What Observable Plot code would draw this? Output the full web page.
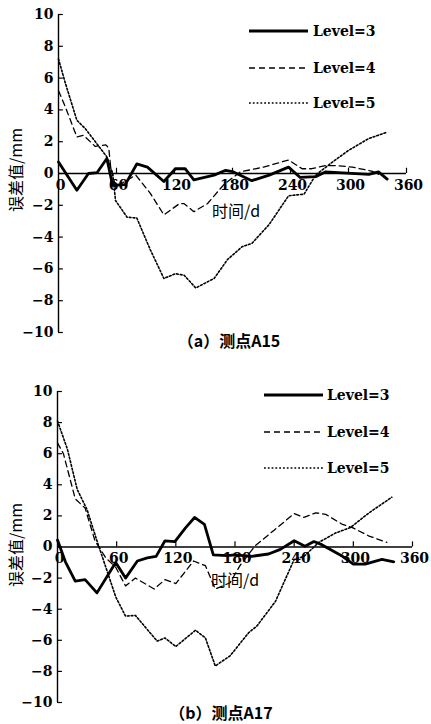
<!DOCTYPE html>
<html><head><meta charset="utf-8">
<script src="https://cdn.jsdelivr.net/npm/d3@7"></script>
<script src="https://cdn.jsdelivr.net/npm/@observablehq/plot@0.6"></script>
<style>
html,body{margin:0;padding:0;background:#fff;}
#wrap{position:relative;width:431px;height:724px;overflow:hidden;background:#fff;}
.abs{position:absolute;white-space:nowrap;line-height:1;}
.num{font-family:"DejaVu Serif",serif;font-weight:bold;font-size:14px;color:#000;}
.cjk{font-family:"Noto Sans CJK SC",sans-serif;font-size:16px;color:#000;}
.cap{font-weight:bold;}
.ylab{transform:translate(-50%,-50%) rotate(-90deg);}
</style></head>
<body><div id="wrap"></div>
<script>
// ---- data ----
const xTicks = [0, 60, 120, 180, 240, 300, 360];
const yTicks = [-10, -8, -6, -4, -2, 0, 2, 4, 6, 8, 10];
const levels = ["Level=3", "Level=4", "Level=5"];

// 测点A15
const a15_l3_day = [0,19,31,40,50,56,69,81,92,109,121,131,140,161,173,181,200,218,238,250,266,276,321,331,340];
const a15_l3_val = [0.73,-1.05,0,0.06,0.94,-0.75,-0.7,0.6,0.4,-0.5,0.3,0.3,-0.4,-0.1,0.2,0.1,-0.45,-0.1,0.4,-0.25,-0.2,0.1,-0.05,0.1,-0.35];
const a15_l4_day = [0,7,19,26,38,49,52,54,59,66,80,95,109,125,130,140,154,171,188,212,238,252,262,276,287,304,324,331];
const a15_l4_val = [5.2,4.2,2.3,2.4,1.7,1.8,1.6,0.4,-0.8,-0.6,-0.1,-1.25,-2.6,-1.9,-1.9,-2.4,-1.9,-0.7,0.1,0.4,0.85,0.3,0.3,0.5,0.5,0.4,0.15,-0.05];
const a15_l5_day = [0,7,19,28,50,56,59,71,81,95,109,121,130,142,161,175,190,200,218,238,254,266,283,300,321,340];
const a15_l5_val = [7.2,5.7,3.35,2.8,1.05,0,-1.7,-2.75,-2.8,-4.8,-6.6,-6.3,-6.4,-7.2,-6.6,-5.4,-4.6,-4.4,-3.2,-1.4,-1.3,-0.1,0.7,1.45,2.2,2.6];

// 测点A17
const a17_l3_day = [0,8,18,28,40,59,69,81,91,100,109,119,130,139,149,158,172,180,197,214,226,240,251,260,268,289,300,312,329,341];
const a17_l3_val = [0.45,-0.95,-2.2,-2.1,-2.95,-1.0,-2.0,-0.9,-0.7,-0.6,0.4,0.35,1.25,1.9,1.45,-0.5,-0.55,-0.5,-0.6,-0.45,-0.15,0.4,0.05,0.35,0.15,-0.6,-1.1,-1.1,-0.8,-0.95];
const a17_l4_day = [0,6,18,28,38,49,59,69,79,98,109,120,138,150,160,175,185,200,220,240,250,262,272,289,299,316,334];
const a17_l4_val = [6.7,6.0,3.1,2.5,0.4,-0.7,-1.3,-2.5,-2.0,-2.7,-2.1,-2.35,-0.9,-1.2,-2.7,-2.3,-1.2,0.05,1.1,2.15,1.9,2.2,2.1,1.45,1.25,0.7,0.3];
const a17_l5_day = [0,10,20,30,40,49,59,69,79,101,109,120,140,150,160,175,194,202,221,240,250,265,282,297,316,339];
const a17_l5_val = [8.1,6.3,3.7,2.4,0.4,-1.3,-3.2,-4.45,-4.4,-6.05,-5.85,-6.4,-5.35,-5.85,-7.65,-7.0,-5.5,-5.1,-3.5,-0.8,-0.6,0.3,0.9,1.25,2.2,3.2];

const styles = {
  "Level=3": {strokeWidth: 2.8, dash: null},
  "Level=4": {strokeWidth: 1.3, dash: "6,4"},
  "Level=5": {strokeWidth: 1.6, dash: "1.8,2"}
};

function rows(day, val, level) { return day.map((d, i) => ({day: d, val: val[i], level})); }
const fmt = d => d < 0 ? "\u2212" + Math.abs(d) : String(d);

function panel(series, o) {
  const lineMarks = ["Level=5", "Level=4", "Level=3"].map(l =>
    Plot.line(series.filter(r => r.level === l), {x: "day", y: "val", stroke: "black",
      strokeWidth: styles[l].strokeWidth, strokeDasharray: styles[l].dash, strokeLinejoin: "round"}));
  return Plot.plot({
    width: 431, height: o.height,
    marginTop: o.mt, marginBottom: o.mb, marginLeft: o.ml, marginRight: o.mr,
    x: {domain: [0, 360], axis: null},
    y: {domain: [-10, 10], axis: null},
    style: {fontFamily: "DejaVu Serif", fontSize: "14px", fontWeight: "bold", background: "transparent", overflow: "visible"},
    marks: [
      Plot.ruleX([0], {stroke: "black", strokeWidth: 1.4}),
      Plot.ruleY([0], {stroke: "black", strokeWidth: 1.4}),
      Plot.ruleY(yTicks, {y: d => d, x1: 0, x2: 5, stroke: "black", strokeWidth: 1.2}),
      Plot.ruleX(xTicks.slice(1), {x: d => d, y1: 0, y2: 0.33, stroke: "black", strokeWidth: 1.2}),
      Plot.text(yTicks, {x: 0, y: d => d, text: fmt, textAnchor: "end", dx: -5, fill: "black"}),
      Plot.text(xTicks, {x: d => d, y: 0, text: fmt, dy: 12, dx: 2, fill: "black"}),
      ...lineMarks
    ]
  });
}

const wrap = document.getElementById("wrap");
function place(el, top) { el.style.position = "absolute"; el.style.left = "0px"; el.style.top = top + "px"; wrap.appendChild(el); }

const A15 = [...rows(a15_l3_day, a15_l3_val, levels[0]), ...rows(a15_l4_day, a15_l4_val, levels[1]), ...rows(a15_l5_day, a15_l5_val, levels[2])];
const A17 = [...rows(a17_l3_day, a17_l3_val, levels[0]), ...rows(a17_l4_day, a17_l4_val, levels[1]), ...rows(a17_l5_day, a17_l5_val, levels[2])];

place(panel(A15, {height: 340, mt: 14, mb: 8, ml: 58, mr: 25}), 0);
place(panel(A17, {height: 333, mt: 14, mb: 8, ml: 57, mr: 19}), 377);

function addText(cls, html, left, top, extra) {
  const d = document.createElement("div");
  d.className = "abs " + cls; d.innerHTML = html;
  d.style.left = left + "px"; d.style.top = top + "px";
  if (extra) Object.assign(d.style, extra);
  wrap.appendChild(d); return d;
}
function legend(x1, x2, ys, tx) {
  levels.forEach((l, i) => {
    const s = document.createElementNS("http://www.w3.org/2000/svg", "svg");
    s.setAttribute("width", x2 - x1); s.setAttribute("height", 6);
    s.style.position = "absolute"; s.style.left = x1 + "px"; s.style.top = (ys[i] - 3) + "px";
    const ln = document.createElementNS("http://www.w3.org/2000/svg", "line");
    ln.setAttribute("x1", 0); ln.setAttribute("x2", x2 - x1); ln.setAttribute("y1", 3); ln.setAttribute("y2", 3);
    ln.setAttribute("stroke", "black"); ln.setAttribute("stroke-width", styles[l].strokeWidth);
    if (styles[l].dash) ln.setAttribute("stroke-dasharray", styles[l].dash);
    s.appendChild(ln); wrap.appendChild(s);
    addText("num", l, tx, ys[i], {transform: "translateY(-50%)"});
  });
}
legend(249, 308, [31, 68, 103], 313);
legend(264, 323, [395, 432, 468], 327);

addText("cjk ylab", "误差值/mm", 15, 170);
addText("cjk ylab", "误差值/mm", 15, 545);
addText("cjk", "时间/d", 212, 210, {transform: "translateY(-50%)"});
addText("cjk", "时间/d", 211, 579, {transform: "translateY(-50%)"});
addText("cjk cap", "（a）测点A15", 229, 340, {transform: "translate(-50%,-50%)"});
addText("cjk cap", "（b）测点A17", 221, 712, {transform: "translate(-50%,-50%)"});
</script></body></html>
